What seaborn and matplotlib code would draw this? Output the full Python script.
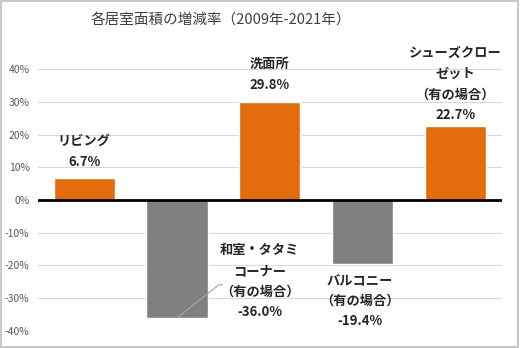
import matplotlib
matplotlib.use("Agg")
import matplotlib.pyplot as plt
import seaborn as sns
import pandas as pd
from matplotlib.patches import Rectangle

categories = ["リビング", "和室・タタミ\nコーナー\n（有の場合）", "洗面所", "バルコニー\n（有の場合）", "シューズクロー\nゼット\n（有の場合）"]
values = [6.7, -36.0, 29.8, -19.4, 22.7]
colors = ["#E46C0A", "#808080", "#E46C0A", "#808080", "#E46C0A"]
yticks = [-40, -30, -20, -10, 0, 10, 20, 30, 40]
title = "各居室面積の増減率（2009年-2021年）"

sns.set_style("white")
plt.rcParams['font.family'] = ['Noto Sans CJK JP', 'DejaVu Sans']

df = pd.DataFrame({"cat": categories, "val": values})
fig = plt.figure(figsize=(5.2, 3.48), dpi=100)
ax = fig.add_axes([0.073, 0.0489, 0.892, 0.7528])
sns.barplot(data=df, x="cat", y="val", hue="cat", palette=colors, legend=False,
            width=0.66, ax=ax, saturation=1)
ax.set_ylim(-40, 40)
ax.set_xlim(-0.5, 4.5)
ax.set_yticks(yticks)
ax.set_yticklabels([f"{t}%" for t in yticks], color="#595959", fontsize=7.5)
ax.set_xticks([])
ax.set_xlabel("")
ax.set_ylabel("")
for s in ax.spines.values():
    s.set_visible(False)
ax.tick_params(axis="y", length=0, pad=6)
ax.grid(axis="y", color="#D9D9D9", linewidth=0.8)
ax.set_axisbelow(True)
ax.axhline(0, color="black", linewidth=2, zorder=3)

# labels (block centres)
def lab(i, txt_x, txt_y):
    ax.text(txt_x, txt_y, f"{categories[i]}\n{values[i]:.1f}%", ha="center", va="center",
            fontsize=9.5, fontweight="bold", color="#262626", linespacing=1.6)

lab(0, 0, 14.9)
lab(2, 2, 38.4)
lab(4, 4, 35.4)
lab(1, 1.89, -24.8)
lab(3, 2.97, -30.8)
# leader line
ax.plot([1.49, 1.45, 1.0], [-25.9, -25.9, -36.0], color="#A6A6A6", linewidth=0.8, zorder=4)

fig.text(0.425, 0.94, title, ha="center", va="center", fontsize=10.5, color="#404040")
fig.patches.append(Rectangle((0.002, 0.003), 0.995, 0.993, transform=fig.transFigure,
                             fill=False, edgecolor="#BFBFBF", linewidth=1.2))
fig.savefig("out.png", dpi=100)
